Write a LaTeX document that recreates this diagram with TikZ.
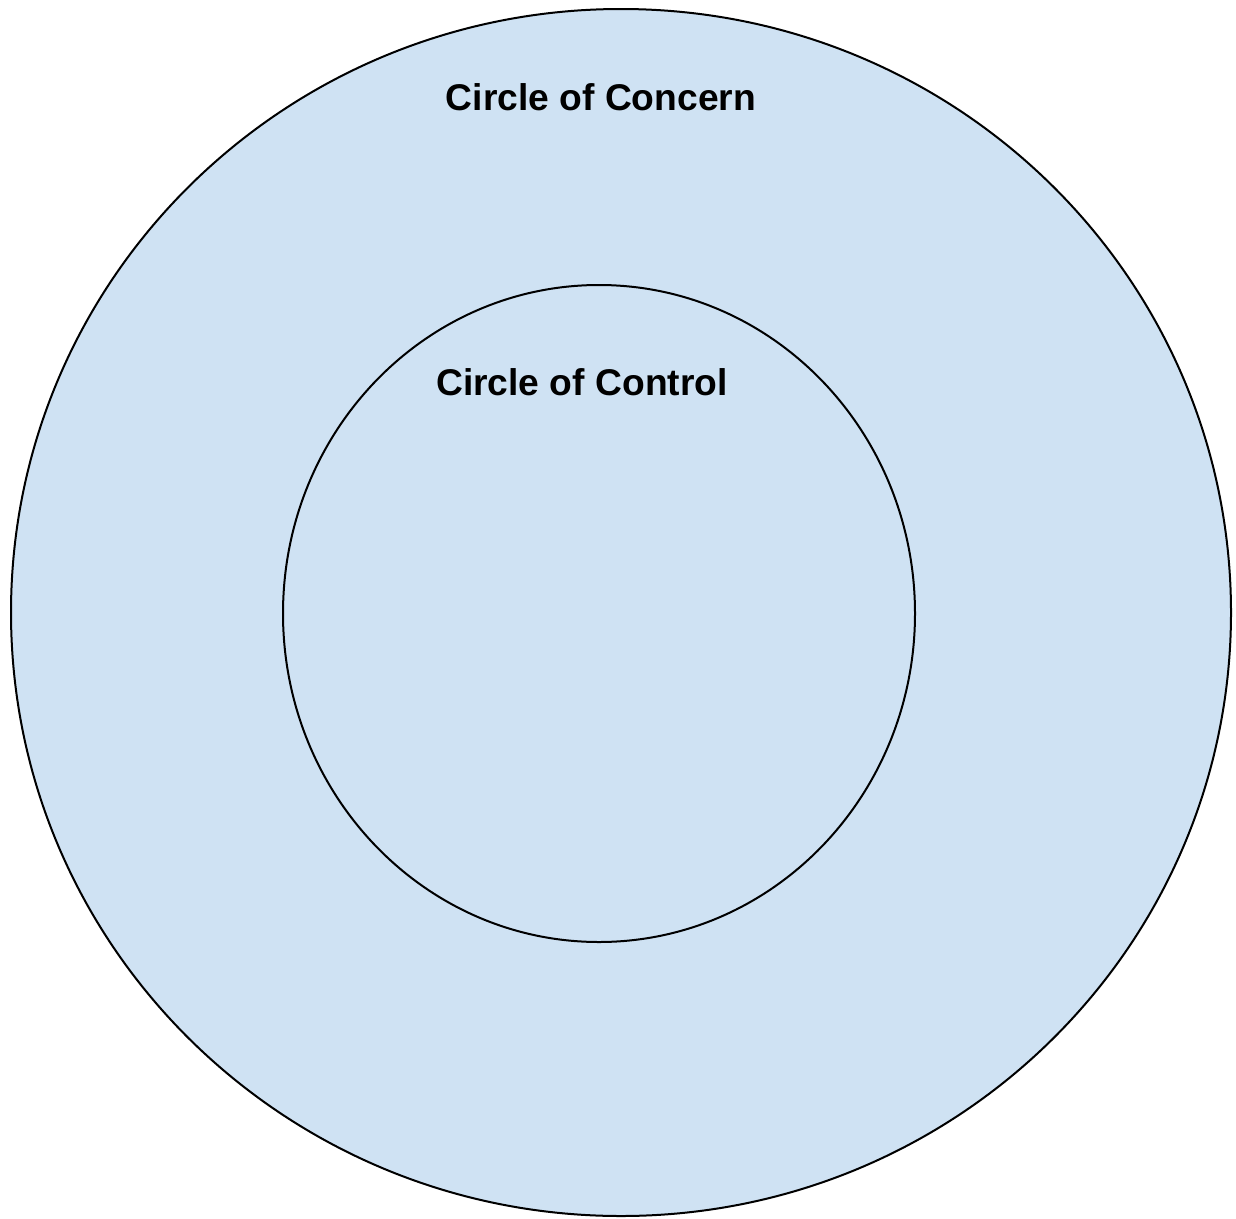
\documentclass[tikz,border=0pt]{standalone}
\usepackage{fontspec}
\setmainfont{Liberation Sans}
\usetikzlibrary{positioning,shapes.geometric}
\definecolor{ringfill}{HTML}{CFE2F3}
\definecolor{ringline}{HTML}{000000}
\tikzset{
  ring/.style={ellipse,draw=ringline,fill=ringfill,line width=2pt,inner sep=0pt},
  ringlabel/.style={font=\fontsize{37.2}{42}\selectfont\bfseries,text=black,inner sep=0pt,anchor=center}
}
\begin{document}
\begin{tikzpicture}[x=1pt,y=-1pt]
  \useasboundingbox (0,0) rectangle (1236,1218);
  \node[ring,minimum width=1220pt,minimum height=1207pt] (concern) at (621,612.5) {};
  \node[ring,minimum width=632pt,minimum height=657pt] (control) at (599,613.5) {};
  \node[ringlabel] (concernlabel) at (601,97) {Circle of Concern};
  \node[ringlabel] (controllabel) at (582,382) {Circle of Control};
\end{tikzpicture}
\end{document}
